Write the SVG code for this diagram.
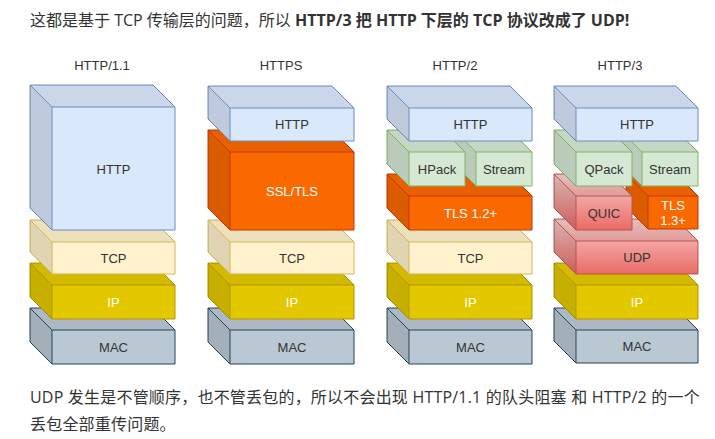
<svg xmlns="http://www.w3.org/2000/svg" width="715" height="439" viewBox="0 0 715 439">
<style>
.bg{fill:#ffffff}
.para{font-family:"Open Sans","Noto Sans CJK SC",sans-serif;font-size:16px;fill:#333333}
.b{font-weight:bold}
.title{font-family:"Liberation Sans",Arial,sans-serif;font-size:13px;fill:#333333;text-anchor:middle}
.lbl{font-family:"Liberation Sans",Arial,sans-serif;font-size:13px;fill:#333333;text-anchor:middle}
.w{fill:#ffffff}
.side{fill:#000000;fill-opacity:0.12;stroke:none}
.top{fill:#000000;fill-opacity:0.07;stroke:none}
.edge{fill:none}
.http{fill:#dae8fc;stroke:#6c8ebf}
.http-e{stroke:#6c8ebf}
.tcp{fill:#fff2cc;stroke:#d6b656}
.tcp-e{stroke:#d6b656}
.ip{fill:#e3c800;stroke:#b09500}
.ip-e{stroke:#b09500}
.mac{fill:#bac8d3;stroke:#23445d}
.mac-e{stroke:#23445d}
.tls{fill:#fa6800;stroke:#c73500}
.tls-e{stroke:#c73500}
.grn{fill:#d5e8d4;stroke:#82b366}
.grn-e{stroke:#82b366}
.red{fill:url(#redg);stroke:#b85450}
.red-e{stroke:#b85450}
</style>
<defs>
<linearGradient id="redg" x1="0" y1="0" x2="0" y2="1">
<stop offset="0" stop-color="#f8cecc"/>
<stop offset="1" stop-color="#ea6b66"/>
</linearGradient>
</defs>
<rect class="bg" x="0" y="0" width="715" height="439"/>

<text class="para" x="30" y="26">这都是基于 TCP 传输层的问题，所以 <tspan class="b">HTTP/3 把 HTTP 下层的 TCP 协议改成了 UDP!</tspan></text>

<text class="title" x="102" y="70">HTTP/1.1</text>
<text class="title" x="281" y="70">HTTPS</text>
<text class="title" x="455" y="70">HTTP/2</text>
<text class="title" x="620" y="70">HTTP/3</text>

<!-- Column 1: HTTP/1.1 -->
<g id="c1-mac">
<path class="mac" d="M30,308 H153 L175,330 V364 H52 L30,342 Z"/>
<path class="side" d="M30,308 L52,330 V364 L30,342 Z"/>
<path class="top" d="M30,308 H153 L175,330 H52 Z"/>
<path class="edge mac-e" d="M30,308 L52,330 H175 M52,330 V364"/>
<text class="lbl" x="113.5" y="351.5">MAC</text>
</g>
<g id="c1-ip">
<path class="ip" d="M30,263 H153 L175,285 V319 H52 L30,297 Z"/>
<path class="side" d="M30,263 L52,285 V319 L30,297 Z"/>
<path class="top" d="M30,263 H153 L175,285 H52 Z"/>
<path class="edge ip-e" d="M30,263 L52,285 H175 M52,285 V319"/>
<text class="lbl w" x="113.5" y="306.5">IP</text>
</g>
<g id="c1-tcp">
<path class="tcp" d="M30,220 H153 L175,242 V274 H52 L30,252 Z"/>
<path class="side" d="M30,220 L52,242 V274 L30,252 Z"/>
<path class="top" d="M30,220 H153 L175,242 H52 Z"/>
<path class="edge tcp-e" d="M30,220 L52,242 H175 M52,242 V274"/>
<text class="lbl" x="113.5" y="262.5">TCP</text>
</g>
<g id="c1-http">
<path class="http" d="M30,85 H153 L175,107 V230 H52 L30,208 Z"/>
<path class="side" d="M30,85 L52,107 V230 L30,208 Z"/>
<path class="top" d="M30,85 H153 L175,107 H52 Z"/>
<path class="edge http-e" d="M30,85 L52,107 H175 M52,107 V230"/>
<text class="lbl" x="113.5" y="173.5">HTTP</text>
</g>

<!-- Column 2: HTTPS -->
<g id="c2-mac">
<path class="mac" d="M208,308 H332 L354,330 V364 H230 L208,342 Z"/>
<path class="side" d="M208,308 L230,330 V364 L208,342 Z"/>
<path class="top" d="M208,308 H332 L354,330 H230 Z"/>
<path class="edge mac-e" d="M208,308 L230,330 H354 M230,330 V364"/>
<text class="lbl" x="292" y="351.5">MAC</text>
</g>
<g id="c2-ip">
<path class="ip" d="M208,263 H332 L354,285 V319 H230 L208,297 Z"/>
<path class="side" d="M208,263 L230,285 V319 L208,297 Z"/>
<path class="top" d="M208,263 H332 L354,285 H230 Z"/>
<path class="edge ip-e" d="M208,263 L230,285 H354 M230,285 V319"/>
<text class="lbl w" x="292" y="306.5">IP</text>
</g>
<g id="c2-tcp">
<path class="tcp" d="M208,220 H332 L354,242 V274 H230 L208,252 Z"/>
<path class="side" d="M208,220 L230,242 V274 L208,252 Z"/>
<path class="top" d="M208,220 H332 L354,242 H230 Z"/>
<path class="edge tcp-e" d="M208,220 L230,242 H354 M230,242 V274"/>
<text class="lbl" x="292" y="262.5">TCP</text>
</g>
<g id="c2-ssl">
<path class="tls" d="M208,130 H332 L354,152 V230 H230 L208,208 Z"/>
<path class="side" d="M208,130 L230,152 V230 L208,208 Z"/>
<path class="top" d="M208,130 H332 L354,152 H230 Z"/>
<path class="edge tls-e" d="M208,130 L230,152 H354 M230,152 V230"/>
<text class="lbl w" x="292" y="195.5">SSL/TLS</text>
</g>
<g id="c2-http">
<path class="http" d="M208,86 H332 L354,108 V141 H230 L208,119 Z"/>
<path class="side" d="M208,86 L230,108 V141 L208,119 Z"/>
<path class="top" d="M208,86 H332 L354,108 H230 Z"/>
<path class="edge http-e" d="M208,86 L230,108 H354 M230,108 V141"/>
<text class="lbl" x="292" y="129">HTTP</text>
</g>

<!-- Column 3: HTTP/2 -->
<g id="c3-mac">
<path class="mac" d="M387,308 H510 L532,330 V364 H409 L387,342 Z"/>
<path class="side" d="M387,308 L409,330 V364 L387,342 Z"/>
<path class="top" d="M387,308 H510 L532,330 H409 Z"/>
<path class="edge mac-e" d="M387,308 L409,330 H532 M409,330 V364"/>
<text class="lbl" x="470.5" y="351.5">MAC</text>
</g>
<g id="c3-ip">
<path class="ip" d="M387,263 H510 L532,285 V319 H409 L387,297 Z"/>
<path class="side" d="M387,263 L409,285 V319 L387,297 Z"/>
<path class="top" d="M387,263 H510 L532,285 H409 Z"/>
<path class="edge ip-e" d="M387,263 L409,285 H532 M409,285 V319"/>
<text class="lbl w" x="470.5" y="306.5">IP</text>
</g>
<g id="c3-tcp">
<path class="tcp" d="M387,220 H510 L532,242 V274 H409 L387,252 Z"/>
<path class="side" d="M387,220 L409,242 V274 L387,252 Z"/>
<path class="top" d="M387,220 H510 L532,242 H409 Z"/>
<path class="edge tcp-e" d="M387,220 L409,242 H532 M409,242 V274"/>
<text class="lbl" x="470.5" y="262.5">TCP</text>
</g>
<g id="c3-tls">
<path class="tls" d="M387,174 H510 L532,196 V230 H409 L387,208 Z"/>
<path class="side" d="M387,174 L409,196 V230 L387,208 Z"/>
<path class="top" d="M387,174 H510 L532,196 H409 Z"/>
<path class="edge tls-e" d="M387,174 L409,196 H532 M409,196 V230"/>
<text class="lbl w" x="470.5" y="217.5">TLS 1.2+</text>
</g>
<g id="c3-stream">
<path class="grn" d="M454,130 H510 L532,152 V186 H476 L454,164 Z"/>
<path class="side" d="M454,130 L476,152 V186 L454,164 Z"/>
<path class="top" d="M454,130 H510 L532,152 H476 Z"/>
<path class="edge grn-e" d="M454,130 L476,152 H532 M476,152 V186"/>
<text class="lbl" x="504" y="173.5">Stream</text>
</g>
<g id="c3-hpack">
<path class="grn" d="M387,130 H443 L465,152 V186 H409 L387,164 Z"/>
<path class="side" d="M387,130 L409,152 V186 L387,164 Z"/>
<path class="top" d="M387,130 H443 L465,152 H409 Z"/>
<path class="edge grn-e" d="M387,130 L409,152 H465 M409,152 V186"/>
<text class="lbl" x="437" y="173.5">HPack</text>
</g>
<g id="c3-http">
<path class="http" d="M387,86 H510 L532,108 V141 H409 L387,119 Z"/>
<path class="side" d="M387,86 L409,108 V141 L387,119 Z"/>
<path class="top" d="M387,86 H510 L532,108 H409 Z"/>
<path class="edge http-e" d="M387,86 L409,108 H532 M409,108 V141"/>
<text class="lbl" x="470.5" y="129">HTTP</text>
</g>

<!-- Column 4: HTTP/3 -->
<g id="c4-mac">
<path class="mac" d="M554,308 H676 L698,330 V363 H576 L554,341 Z"/>
<path class="side" d="M554,308 L576,330 V363 L554,341 Z"/>
<path class="top" d="M554,308 H676 L698,330 H576 Z"/>
<path class="edge mac-e" d="M554,308 L576,330 H698 M576,330 V363"/>
<text class="lbl" x="637" y="351">MAC</text>
</g>
<g id="c4-ip">
<path class="ip" d="M554,263 H676 L698,285 V319 H576 L554,297 Z"/>
<path class="side" d="M554,263 L576,285 V319 L554,297 Z"/>
<path class="top" d="M554,263 H676 L698,285 H576 Z"/>
<path class="edge ip-e" d="M554,263 L576,285 H698 M576,285 V319"/>
<text class="lbl w" x="637" y="306.5">IP</text>
</g>
<g id="c4-udp">
<path class="red" d="M554,219 H676 L698,241 V274 H576 L554,252 Z"/>
<path class="side" d="M554,219 L576,241 V274 L554,252 Z"/>
<path class="top" d="M554,219 H676 L698,241 H576 Z"/>
<path class="edge red-e" d="M554,219 L576,241 H698 M576,241 V274"/>
<text class="lbl" x="637" y="262">UDP</text>
</g>
<g id="c4-tls">
<path class="tls" d="M626,174 H676 L698,196 V229 H648 L626,207 Z"/>
<path class="side" d="M626,174 L648,196 V229 L626,207 Z"/>
<path class="top" d="M626,174 H676 L698,196 H648 Z"/>
<path class="edge tls-e" d="M626,174 L648,196 H698 M648,196 V229"/>
<text class="lbl w" x="673" y="209.5">TLS</text>
<text class="lbl w" x="673" y="225">1.3+</text>
</g>
<g id="c4-quic">
<path class="red" d="M554,174 H610 L632,196 V230 H576 L554,208 Z"/>
<path class="side" d="M554,174 L576,196 V230 L554,208 Z"/>
<path class="top" d="M554,174 H610 L632,196 H576 Z"/>
<path class="edge red-e" d="M554,174 L576,196 H632 M576,196 V230"/>
<text class="lbl" x="604" y="217.5">QUIC</text>
</g>
<g id="c4-stream">
<path class="grn" d="M620,130 H676 L698,152 V186 H642 L620,164 Z"/>
<path class="side" d="M620,130 L642,152 V186 L620,164 Z"/>
<path class="top" d="M620,130 H676 L698,152 H642 Z"/>
<path class="edge grn-e" d="M620,130 L642,152 H698 M642,152 V186"/>
<text class="lbl" x="670" y="173.5">Stream</text>
</g>
<g id="c4-qpack">
<path class="grn" d="M554,130 H610 L632,152 V186 H576 L554,164 Z"/>
<path class="side" d="M554,130 L576,152 V186 L554,164 Z"/>
<path class="top" d="M554,130 H610 L632,152 H576 Z"/>
<path class="edge grn-e" d="M554,130 L576,152 H632 M576,152 V186"/>
<text class="lbl" x="604" y="173.5">QPack</text>
</g>
<g id="c4-http">
<path class="http" d="M554,86 H676 L698,108 V141 H576 L554,119 Z"/>
<path class="side" d="M554,86 L576,108 V141 L554,119 Z"/>
<path class="top" d="M554,86 H676 L698,108 H576 Z"/>
<path class="edge http-e" d="M554,86 L576,108 H698 M576,108 V141"/>
<text class="lbl" x="637" y="129">HTTP</text>
</g>

<g id="connectors"></g>

<text class="para" x="30" y="403" letter-spacing="0.2">UDP 发生是不管顺序，也不管丢包的，所以不会出现 HTTP/1.1 的队头阻塞 和 HTTP/2 的一个</text>
<text class="para" x="30" y="430" letter-spacing="0.2">丢包全部重传问题。</text>
</svg>
